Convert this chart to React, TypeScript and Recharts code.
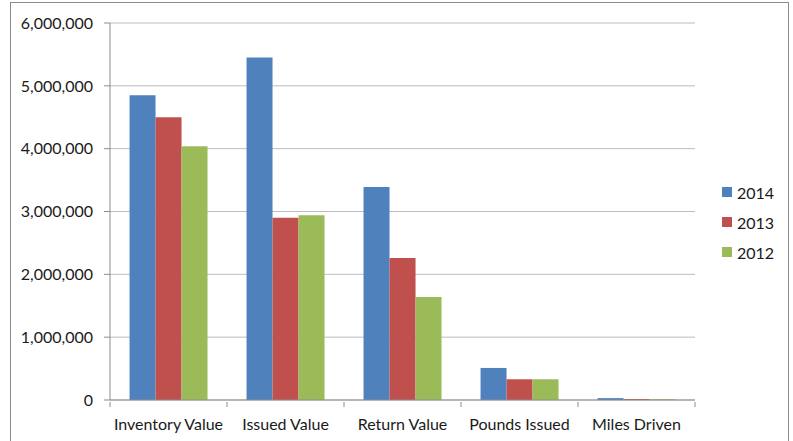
import { BarChart, Bar, XAxis, YAxis, CartesianGrid } from "recharts";

const categories = ["Inventory Value", "Issued Value", "Return Value", "Pounds Issued", "Miles Driven"];
const values2014 = [4850000, 5450000, 3390000, 510000, 30000];
const values2013 = [4500000, 2900000, 2260000, 330000, 15000];
const values2012 = [4040000, 2940000, 1640000, 330000, 12000];
const yTicks = [0, 1000000, 2000000, 3000000, 4000000, 5000000, 6000000];

const series = [
  { key: "y2014", name: "2014", color: "#4F81BD" },
  { key: "y2013", name: "2013", color: "#C0504D" },
  { key: "y2012", name: "2012", color: "#9BBB59" },
];

const data = categories.map((name, i) => ({
  name,
  y2014: values2014[i],
  y2013: values2013[i],
  y2012: values2012[i],
}));

const FONT = "Lato, 'Open Sans', sans-serif";

function XTick(props: any) {
  const { x, y, payload, index } = props;
  const half = payload && payload.offset ? payload.offset : 58.5;
  return (
    <g>
      <line x1={x - half} x2={x - half} y1={y - 6} y2={y - 1} stroke="#8C8C8C" />
      {index === categories.length - 1 && (
        <line x1={x + half} x2={x + half} y1={y - 6} y2={y - 1} stroke="#8C8C8C" />
      )}
      <text x={x} y={y + 22} textAnchor="middle" fontSize={16} fontFamily={FONT} fill="#1a1a1a">
        {payload.value}
      </text>
    </g>
  );
}

export default function App() {
  return (
    <div style={{ position: "absolute", left: 0, top: 0, width: 793, height: 441, background: "#fff" }}>
      <div
        style={{
          position: "absolute",
          left: 10,
          top: 2,
          width: 779,
          height: 445,
          border: "1px solid #8C8C8C",
          boxSizing: "border-box",
        }}
      />
      <div style={{ position: "absolute", left: 0, top: 0 }}>
        <BarChart
          width={793}
          height={441}
          data={data}
          margin={{ top: 23, right: 98, left: 0, bottom: 0 }}
          barCategoryGap="16.7%"
          barGap={0}
        >
          <CartesianGrid vertical={false} stroke="#BDBDBD" />
          <XAxis
            dataKey="name"
            height={41}
            axisLine={{ stroke: "#8C8C8C" }}
            tickLine={false}
            tick={<XTick />}
            interval={0}
          />
          <YAxis
            width={110}
            domain={[0, 6000000]}
            ticks={yTicks}
            interval={0}
            axisLine={{ stroke: "#8C8C8C" }}
            tickLine={{ stroke: "#8C8C8C" }}
            tickSize={6}
            tickMargin={11}
            tick={{ fontSize: 16, fontFamily: FONT, fill: "#1a1a1a" }}
            tickFormatter={(v: number) => v.toLocaleString("en-US")}
          />
          {series.map((s) => (
            <Bar key={s.key} dataKey={s.key} name={s.name} fill={s.color} isAnimationActive={false} />
          ))}
        </BarChart>
      </div>
      <div style={{ position: "absolute", left: 722, top: 177, fontFamily: FONT, fontSize: 16, color: "#1a1a1a" }}>
        {series.map((s) => (
          <div key={s.key} style={{ display: "flex", alignItems: "center", height: 30 }}>
            <span style={{ width: 10, height: 10, background: s.color, display: "inline-block", marginRight: 5 }} />
            <span>{s.name}</span>
          </div>
        ))}
      </div>
    </div>
  );
}
